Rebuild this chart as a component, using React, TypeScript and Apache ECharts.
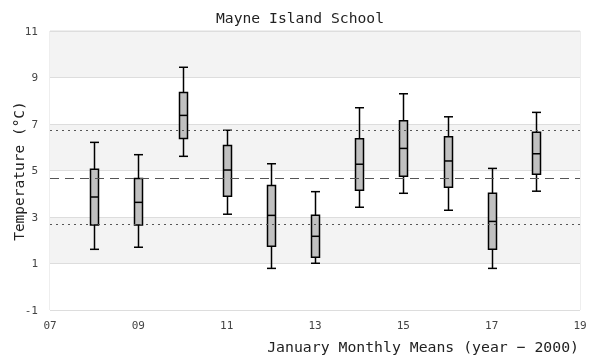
import React, { useEffect, useRef } from "react";
import * as echarts from "echarts";

const years = [8, 9, 10, 11, 12, 13, 14, 15, 16, 17, 18];
const lows = [1.61, 1.7, 5.61, 3.12, 0.79, 1.01, 3.42, 4.02, 3.29, 0.79, 4.11];
const q1s = [2.66, 2.66, 6.38, 3.89, 1.74, 1.27, 4.15, 4.75, 4.28, 1.61, 4.84];
const medians = [3.86, 3.63, 7.37, 5.02, 3.07, 2.17, 5.27, 5.95, 5.41, 2.81, 5.72];
const q3s = [5.05, 4.66, 8.36, 6.08, 4.36, 3.07, 6.37, 7.14, 6.45, 4.02, 6.64];
const highs = [6.21, 5.68, 9.44, 6.73, 5.29, 4.09, 7.7, 8.3, 7.31, 5.09, 7.5];
const meanLine = 4.65;
const upperLine = 6.72;
const lowerLine = 2.68;

const MONO = "'DejaVu Sans Mono', 'Liberation Mono', monospace";

export default function App() {
  const ref = useRef<HTMLDivElement>(null);
  useEffect(() => {
    const chart = echarts.init(ref.current!, null, { renderer: "svg" });
    const data = years.map((y, i) => [y, lows[i], q1s[i], medians[i], q3s[i], highs[i]]);
    chart.setOption({
      animation: false,
      title: {
        text: "Mayne Island School",
        left: "center",
        top: 5,
        textStyle: { fontFamily: MONO, fontSize: 14.7, fontWeight: "normal", color: "#222" },
      },
      grid: {
        left: 50,
        right: 20,
        top: 31,
        bottom: 50,
        containLabel: false,
        outerBoundsMode: "none",
        show: true,
        borderColor: "#dddddd",
        borderWidth: 1,
        backgroundColor: "transparent",
      },
      xAxis: {
        type: "value",
        min: 7,
        max: 19,
        interval: 2,
        axisLine: { show: false },
        axisTick: { show: false },
        splitLine: { show: false },
        axisLabel: {
          fontFamily: MONO,
          fontSize: 11,
          color: "#444",
          margin: 10,
          formatter: (v: number) => (v < 10 ? "0" + v : String(v)),
        },
      },
      yAxis: {
        type: "value",
        min: -1,
        max: 11,
        interval: 2,
        axisLine: { show: false },
        axisTick: { show: false },
        splitLine: { show: true, lineStyle: { color: "#dddddd", width: 1 } },
        splitArea: { show: true, areaStyle: { color: ["#ffffff", "#f3f3f3"] } },
        axisLabel: { fontFamily: MONO, fontSize: 11, color: "#444", margin: 12 },
      },
      graphic: [
        {
          type: "text",
          x: 18.5,
          y: 171,
          rotation: Math.PI / 2,
          style: {
            text: "Temperature (\u00b0C)",
            font: "14.5px " + MONO,
            fill: "#222",
            align: "center",
            verticalAlign: "middle",
          },
        },
        {
          type: "text",
          right: 21,
          top: 339,
          style: {
            text: "January Monthly Means (year \u2212 2000)",
            font: "14.8px " + MONO,
            fill: "#222",
          },
        },
      ],
      series: [
        {
          type: "custom",
          data,
          encode: { x: 0, y: [1, 2, 3, 4, 5] },
          renderItem: (params: any, api: any) => {
            const x = api.value(0);
            const pLow = api.coord([x, api.value(1)]);
            const pQ1 = api.coord([x, api.value(2)]);
            const pMed = api.coord([x, api.value(3)]);
            const pQ3 = api.coord([x, api.value(4)]);
            const pHigh = api.coord([x, api.value(5)]);
            const cx = Math.round(pMed[0]) + 0.5;
            const bw = 8;
            const cw = 9;
            const st = { stroke: "#000", lineWidth: 1.5, fill: "none" };
            return {
              type: "group",
              children: [
                { type: "line", shape: { x1: cx, y1: pHigh[1], x2: cx, y2: pQ3[1] }, style: st },
                { type: "line", shape: { x1: cx, y1: pQ1[1], x2: cx, y2: pLow[1] }, style: st },
                { type: "line", shape: { x1: cx - cw / 2, y1: pHigh[1], x2: cx + cw / 2, y2: pHigh[1] }, style: st },
                { type: "line", shape: { x1: cx - cw / 2, y1: pLow[1], x2: cx + cw / 2, y2: pLow[1] }, style: st },
                {
                  type: "rect",
                  shape: { x: cx - bw / 2, y: pQ3[1], width: bw, height: pQ1[1] - pQ3[1] },
                  style: { fill: "#c0c0c0", stroke: "#000", lineWidth: 1.5 },
                },
                { type: "line", shape: { x1: cx - bw / 2, y1: pMed[1], x2: cx + bw / 2, y2: pMed[1] }, style: st },
              ],
            };
          },
          markLine: {
            silent: true,
            symbol: "none",
            label: { show: false },
            data: [
              { yAxis: meanLine, lineStyle: { type: [9, 6], color: "#555", width: 1 } },
              { yAxis: upperLine, lineStyle: { type: [2, 4], color: "#555", width: 1 } },
              { yAxis: lowerLine, lineStyle: { type: [2, 4], color: "#555", width: 1 } },
            ],
          },
          z: 3,
        },
      ],
    });
    return () => chart.dispose();
  }, []);
  return <div ref={ref} style={{ position: "fixed", left: 0, top: 0, width: 600, height: 360 }} />;
}
